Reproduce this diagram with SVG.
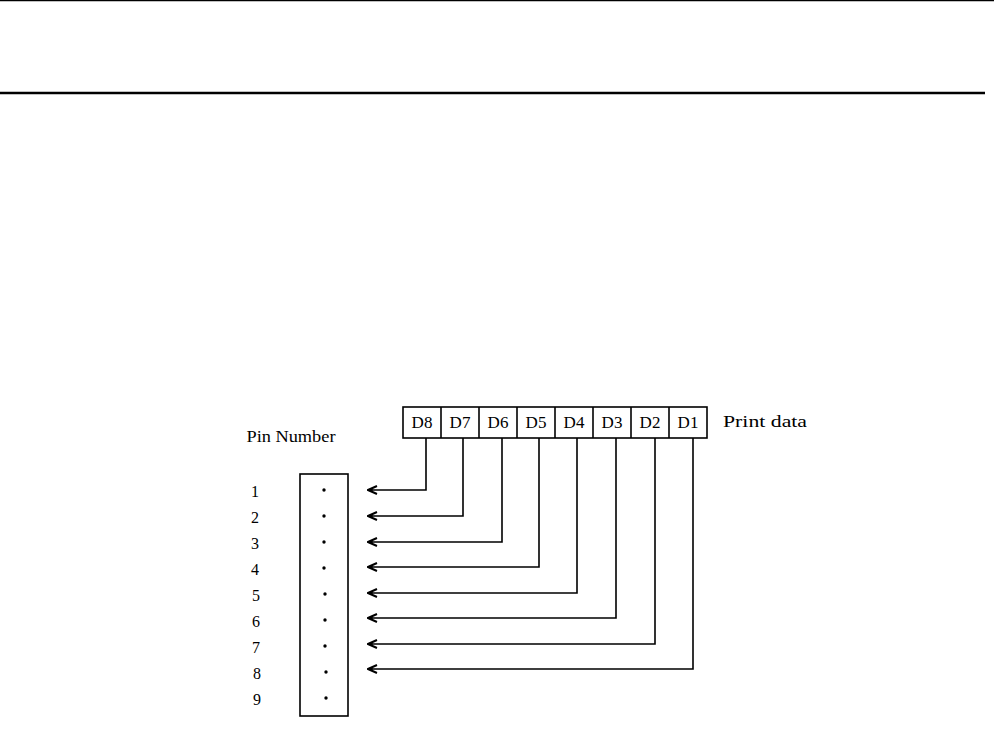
<svg xmlns="http://www.w3.org/2000/svg" width="994" height="732" viewBox="0 0 994 732">
<defs>
<style>
.t{font-family:"Liberation Serif","Times New Roman",serif;fill:#000}
.box{fill:#fff;stroke:#000;stroke-width:1.6}
.wire{fill:none;stroke:#000;stroke-width:1.6}
.rule{stroke:#000}
</style>
<marker id="ah" viewBox="0 0 12 10" refX="11" refY="5" markerWidth="12" markerHeight="10" markerUnits="userSpaceOnUse" orient="auto">
<path d="M2,1 L11,5 L2,9" fill="none" stroke="#000" stroke-width="2"/>
<circle cx="8" cy="5" r="1.8" fill="#000"/>
</marker>
</defs>
<rect width="994" height="732" fill="#fff"/>
<line class="rule" x1="0" y1="0.5" x2="994" y2="0.5" stroke-width="1.5"/>
<line class="rule" x1="0" y1="93" x2="985" y2="93" stroke-width="2.5"/>

<g id="print-data">
<rect class="box" x="403" y="407" width="304" height="31"/>
<g class="wire">
<line x1="441" y1="407" x2="441" y2="438"/>
<line x1="479" y1="407" x2="479" y2="438"/>
<line x1="517" y1="407" x2="517" y2="438"/>
<line x1="555" y1="407" x2="555" y2="438"/>
<line x1="593" y1="407" x2="593" y2="438"/>
<line x1="631" y1="407" x2="631" y2="438"/>
<line x1="669" y1="407" x2="669" y2="438"/>
</g>
<g class="t" font-size="17" text-anchor="middle">
<text x="422" y="428">D8</text>
<text x="460" y="428">D7</text>
<text x="498" y="428">D6</text>
<text x="536" y="428">D5</text>
<text x="574" y="428">D4</text>
<text x="612" y="428">D3</text>
<text x="650" y="428">D2</text>
<text x="688" y="428">D1</text>
</g>
<text class="t" x="723" y="427" font-size="17" textLength="84" lengthAdjust="spacingAndGlyphs">Print data</text>
</g>

<g id="pin-connector">
<rect class="box" x="300" y="474" width="48" height="242"/>
<g fill="#000">
<circle cx="324" cy="490" r="1.7"/>
<circle cx="324" cy="516" r="1.7"/>
<circle cx="324" cy="542" r="1.7"/>
<circle cx="324" cy="568" r="1.7"/>
<circle cx="325" cy="594" r="1.7"/>
<circle cx="325" cy="620" r="1.7"/>
<circle cx="325" cy="646" r="1.7"/>
<circle cx="326" cy="672" r="1.7"/>
<circle cx="326" cy="698" r="1.7"/>
</g>
</g>

<g id="pin-labels" class="t" font-size="16" text-anchor="middle">
<text x="291" y="442" textLength="89" lengthAdjust="spacingAndGlyphs">Pin Number</text>
<text x="255" y="497">1</text>
<text x="255" y="523">2</text>
<text x="255" y="549">3</text>
<text x="255" y="575">4</text>
<text x="256" y="601">5</text>
<text x="256" y="627">6</text>
<text x="256" y="653">7</text>
<text x="257" y="679">8</text>
<text x="257" y="705">9</text>
</g>

<g id="connectors" class="wire" marker-end="url(#ah)">
<path d="M426,438 V490 H368"/>
<path d="M463,438 V516 H368"/>
<path d="M502,438 V542 H368"/>
<path d="M539,438 V567 H368"/>
<path d="M577,438 V593 H368"/>
<path d="M616,438 V618 H368"/>
<path d="M655,438 V644 H368"/>
<path d="M693,438 V669 H368"/>
</g>
</svg>
